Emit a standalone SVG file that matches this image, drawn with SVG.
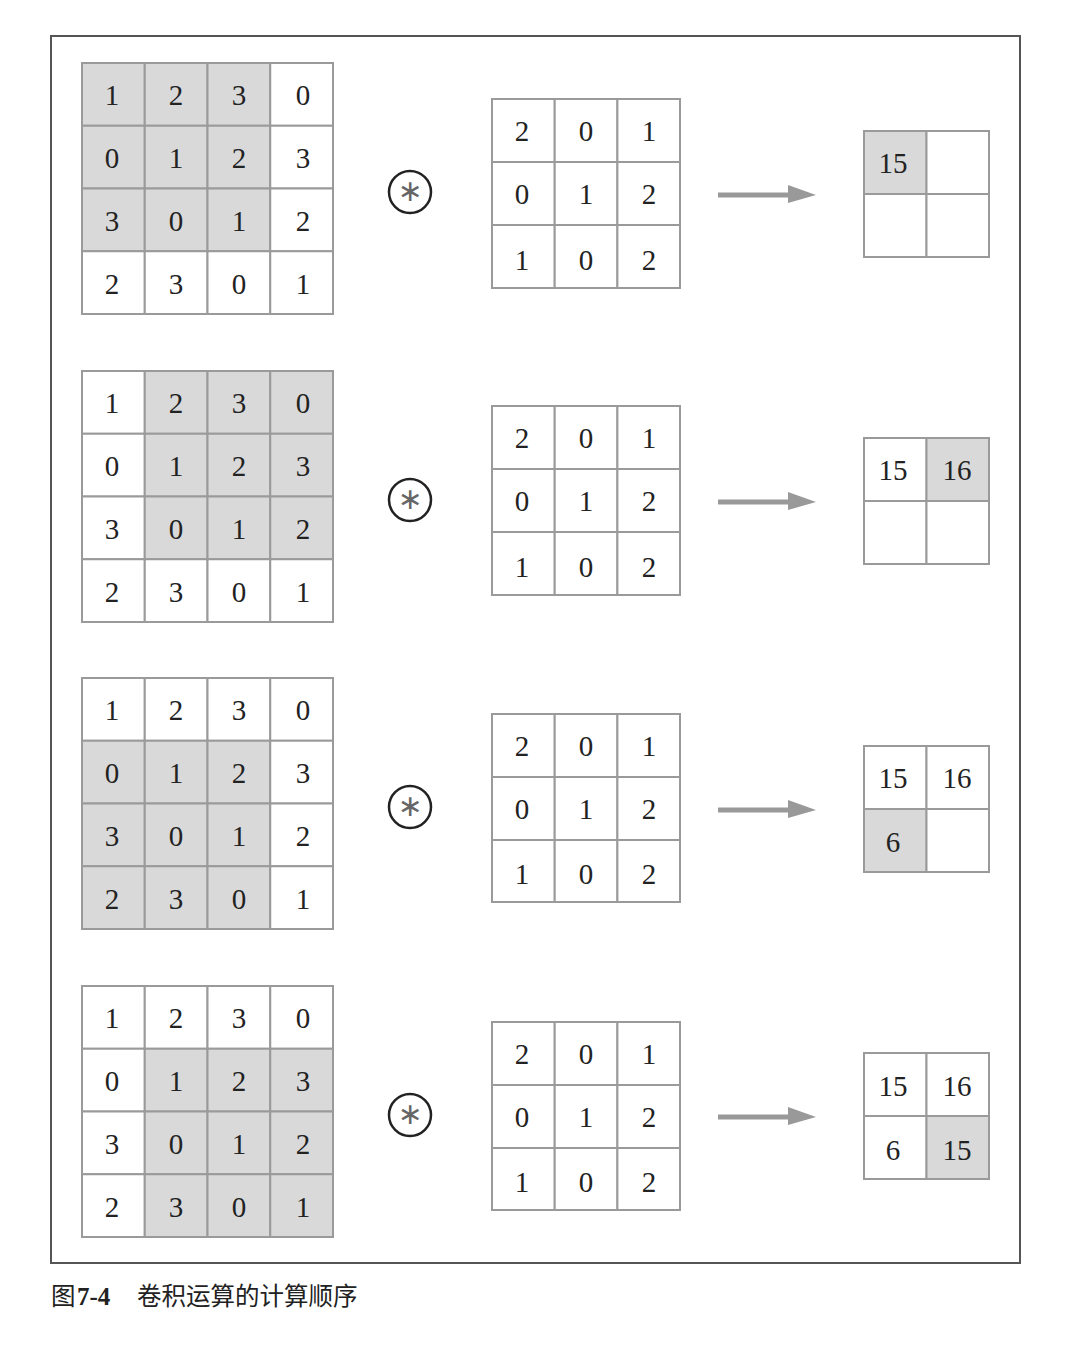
<svg xmlns="http://www.w3.org/2000/svg" width="1080" height="1366" viewBox="0 0 1080 1366">
<style>
.frame{fill:#fff;stroke:#555;stroke-width:2}
.c{fill:#fff;stroke:#9a9a9a;stroke-width:2}
.s{fill:#d9d9d9;stroke:#9a9a9a;stroke-width:2}
.n{font-family:"Liberation Serif","DejaVu Serif",serif;font-size:29px;fill:#222;text-anchor:middle}
.op{fill:none;stroke:#222;stroke-width:2.5}
.ast{font-family:"DejaVu Sans",sans-serif;font-size:30px;fill:#666;text-anchor:middle}
.arr{fill:#999;stroke:none}
.cap{font-family:"Noto Sans CJK SC","Noto Sans",sans-serif;font-size:24.5px;fill:#222}
.capn{font-family:"Liberation Serif",serif;font-size:25px;font-weight:bold;fill:#222}
</style>
<rect width="1080" height="1366" fill="#fff"/>
<rect class="frame" x="51" y="36" width="969" height="1227"/>

<!-- Row 1 -->
<g id="input1">
<rect class="s" x="82" y="63" width="62.75" height="62.75"/><rect class="s" x="144.75" y="63" width="62.75" height="62.75"/><rect class="s" x="207.5" y="63" width="62.75" height="62.75"/><rect class="c" x="270.25" y="63" width="62.75" height="62.75"/>
<rect class="s" x="82" y="125.75" width="62.75" height="62.75"/><rect class="s" x="144.75" y="125.75" width="62.75" height="62.75"/><rect class="s" x="207.5" y="125.75" width="62.75" height="62.75"/><rect class="c" x="270.25" y="125.75" width="62.75" height="62.75"/>
<rect class="s" x="82" y="188.5" width="62.75" height="62.75"/><rect class="s" x="144.75" y="188.5" width="62.75" height="62.75"/><rect class="s" x="207.5" y="188.5" width="62.75" height="62.75"/><rect class="c" x="270.25" y="188.5" width="62.75" height="62.75"/>
<rect class="c" x="82" y="251.25" width="62.75" height="62.75"/><rect class="c" x="144.75" y="251.25" width="62.75" height="62.75"/><rect class="c" x="207.5" y="251.25" width="62.75" height="62.75"/><rect class="c" x="270.25" y="251.25" width="62.75" height="62.75"/>
<text class="n" x="112" y="105">1</text><text class="n" x="176" y="105">2</text><text class="n" x="239" y="105">3</text><text class="n" x="303" y="105">0</text>
<text class="n" x="112" y="168">0</text><text class="n" x="176" y="168">1</text><text class="n" x="239" y="168">2</text><text class="n" x="303" y="168">3</text>
<text class="n" x="112" y="231">3</text><text class="n" x="176" y="231">0</text><text class="n" x="239" y="231">1</text><text class="n" x="303" y="231">2</text>
<text class="n" x="112" y="294">2</text><text class="n" x="176" y="294">3</text><text class="n" x="239" y="294">0</text><text class="n" x="303" y="294">1</text>
</g>
<g id="op1"><circle class="op" cx="410" cy="192" r="21"/><text class="ast" x="410" y="201">∗</text></g>
<g id="kernel1">
<rect class="c" x="492" y="99" width="62.7" height="63"/><rect class="c" x="554.7" y="99" width="62.7" height="63"/><rect class="c" x="617.4" y="99" width="62.6" height="63"/>
<rect class="c" x="492" y="162" width="62.7" height="63"/><rect class="c" x="554.7" y="162" width="62.7" height="63"/><rect class="c" x="617.4" y="162" width="62.6" height="63"/>
<rect class="c" x="492" y="225" width="62.7" height="63"/><rect class="c" x="554.7" y="225" width="62.7" height="63"/><rect class="c" x="617.4" y="225" width="62.6" height="63"/>
<text class="n" x="522" y="141">2</text><text class="n" x="586" y="141">0</text><text class="n" x="649" y="141">1</text>
<text class="n" x="522" y="204">0</text><text class="n" x="586" y="204">1</text><text class="n" x="649" y="204">2</text>
<text class="n" x="522" y="270">1</text><text class="n" x="586" y="270">0</text><text class="n" x="649" y="270">2</text>
</g>
<g id="output1">
<rect class="s" x="864" y="131" width="62.5" height="63"/><rect class="c" x="926.5" y="131" width="62.5" height="63"/>
<rect class="c" x="864" y="194" width="62.5" height="63"/><rect class="c" x="926.5" y="194" width="62.5" height="63"/>
<text class="n" x="893" y="173">15</text>
</g>

<!-- Row 2 -->
<g id="input2">
<rect class="c" x="82" y="371" width="62.75" height="62.75"/><rect class="s" x="144.75" y="371" width="62.75" height="62.75"/><rect class="s" x="207.5" y="371" width="62.75" height="62.75"/><rect class="s" x="270.25" y="371" width="62.75" height="62.75"/>
<rect class="c" x="82" y="433.75" width="62.75" height="62.75"/><rect class="s" x="144.75" y="433.75" width="62.75" height="62.75"/><rect class="s" x="207.5" y="433.75" width="62.75" height="62.75"/><rect class="s" x="270.25" y="433.75" width="62.75" height="62.75"/>
<rect class="c" x="82" y="496.5" width="62.75" height="62.75"/><rect class="s" x="144.75" y="496.5" width="62.75" height="62.75"/><rect class="s" x="207.5" y="496.5" width="62.75" height="62.75"/><rect class="s" x="270.25" y="496.5" width="62.75" height="62.75"/>
<rect class="c" x="82" y="559.25" width="62.75" height="62.75"/><rect class="c" x="144.75" y="559.25" width="62.75" height="62.75"/><rect class="c" x="207.5" y="559.25" width="62.75" height="62.75"/><rect class="c" x="270.25" y="559.25" width="62.75" height="62.75"/>
<text class="n" x="112" y="413">1</text><text class="n" x="176" y="413">2</text><text class="n" x="239" y="413">3</text><text class="n" x="303" y="413">0</text>
<text class="n" x="112" y="476">0</text><text class="n" x="176" y="476">1</text><text class="n" x="239" y="476">2</text><text class="n" x="303" y="476">3</text>
<text class="n" x="112" y="539">3</text><text class="n" x="176" y="539">0</text><text class="n" x="239" y="539">1</text><text class="n" x="303" y="539">2</text>
<text class="n" x="112" y="602">2</text><text class="n" x="176" y="602">3</text><text class="n" x="239" y="602">0</text><text class="n" x="303" y="602">1</text>
</g>
<g id="op2"><circle class="op" cx="410" cy="500" r="21"/><text class="ast" x="410" y="509">∗</text></g>
<g id="kernel2">
<rect class="c" x="492" y="406" width="62.7" height="63"/><rect class="c" x="554.7" y="406" width="62.7" height="63"/><rect class="c" x="617.4" y="406" width="62.6" height="63"/>
<rect class="c" x="492" y="469" width="62.7" height="63"/><rect class="c" x="554.7" y="469" width="62.7" height="63"/><rect class="c" x="617.4" y="469" width="62.6" height="63"/>
<rect class="c" x="492" y="532" width="62.7" height="63"/><rect class="c" x="554.7" y="532" width="62.7" height="63"/><rect class="c" x="617.4" y="532" width="62.6" height="63"/>
<text class="n" x="522" y="448">2</text><text class="n" x="586" y="448">0</text><text class="n" x="649" y="448">1</text>
<text class="n" x="522" y="511">0</text><text class="n" x="586" y="511">1</text><text class="n" x="649" y="511">2</text>
<text class="n" x="522" y="577">1</text><text class="n" x="586" y="577">0</text><text class="n" x="649" y="577">2</text>
</g>
<g id="output2">
<rect class="c" x="864" y="438" width="62.5" height="63"/><rect class="s" x="926.5" y="438" width="62.5" height="63"/>
<rect class="c" x="864" y="501" width="62.5" height="63"/><rect class="c" x="926.5" y="501" width="62.5" height="63"/>
<text class="n" x="893" y="480">15</text><text class="n" x="957" y="480">16</text>
</g>

<!-- Row 3 -->
<g id="input3">
<rect class="c" x="82" y="678" width="62.75" height="62.75"/><rect class="c" x="144.75" y="678" width="62.75" height="62.75"/><rect class="c" x="207.5" y="678" width="62.75" height="62.75"/><rect class="c" x="270.25" y="678" width="62.75" height="62.75"/>
<rect class="s" x="82" y="740.75" width="62.75" height="62.75"/><rect class="s" x="144.75" y="740.75" width="62.75" height="62.75"/><rect class="s" x="207.5" y="740.75" width="62.75" height="62.75"/><rect class="c" x="270.25" y="740.75" width="62.75" height="62.75"/>
<rect class="s" x="82" y="803.5" width="62.75" height="62.75"/><rect class="s" x="144.75" y="803.5" width="62.75" height="62.75"/><rect class="s" x="207.5" y="803.5" width="62.75" height="62.75"/><rect class="c" x="270.25" y="803.5" width="62.75" height="62.75"/>
<rect class="s" x="82" y="866.25" width="62.75" height="62.75"/><rect class="s" x="144.75" y="866.25" width="62.75" height="62.75"/><rect class="s" x="207.5" y="866.25" width="62.75" height="62.75"/><rect class="c" x="270.25" y="866.25" width="62.75" height="62.75"/>
<text class="n" x="112" y="720">1</text><text class="n" x="176" y="720">2</text><text class="n" x="239" y="720">3</text><text class="n" x="303" y="720">0</text>
<text class="n" x="112" y="783">0</text><text class="n" x="176" y="783">1</text><text class="n" x="239" y="783">2</text><text class="n" x="303" y="783">3</text>
<text class="n" x="112" y="846">3</text><text class="n" x="176" y="846">0</text><text class="n" x="239" y="846">1</text><text class="n" x="303" y="846">2</text>
<text class="n" x="112" y="909">2</text><text class="n" x="176" y="909">3</text><text class="n" x="239" y="909">0</text><text class="n" x="303" y="909">1</text>
</g>
<g id="op3"><circle class="op" cx="410" cy="807" r="21"/><text class="ast" x="410" y="816">∗</text></g>
<g id="kernel3">
<rect class="c" x="492" y="714" width="62.7" height="63"/><rect class="c" x="554.7" y="714" width="62.7" height="63"/><rect class="c" x="617.4" y="714" width="62.6" height="63"/>
<rect class="c" x="492" y="777" width="62.7" height="63"/><rect class="c" x="554.7" y="777" width="62.7" height="63"/><rect class="c" x="617.4" y="777" width="62.6" height="63"/>
<rect class="c" x="492" y="840" width="62.7" height="62"/><rect class="c" x="554.7" y="840" width="62.7" height="62"/><rect class="c" x="617.4" y="840" width="62.6" height="62"/>
<text class="n" x="522" y="756">2</text><text class="n" x="586" y="756">0</text><text class="n" x="649" y="756">1</text>
<text class="n" x="522" y="819">0</text><text class="n" x="586" y="819">1</text><text class="n" x="649" y="819">2</text>
<text class="n" x="522" y="884">1</text><text class="n" x="586" y="884">0</text><text class="n" x="649" y="884">2</text>
</g>
<g id="output3">
<rect class="c" x="864" y="746" width="62.5" height="63"/><rect class="c" x="926.5" y="746" width="62.5" height="63"/>
<rect class="s" x="864" y="809" width="62.5" height="63"/><rect class="c" x="926.5" y="809" width="62.5" height="63"/>
<text class="n" x="893" y="788">15</text><text class="n" x="957" y="788">16</text><text class="n" x="893" y="852">6</text>
</g>

<!-- Row 4 -->
<g id="input4">
<rect class="c" x="82" y="986" width="62.75" height="62.75"/><rect class="c" x="144.75" y="986" width="62.75" height="62.75"/><rect class="c" x="207.5" y="986" width="62.75" height="62.75"/><rect class="c" x="270.25" y="986" width="62.75" height="62.75"/>
<rect class="c" x="82" y="1048.75" width="62.75" height="62.75"/><rect class="s" x="144.75" y="1048.75" width="62.75" height="62.75"/><rect class="s" x="207.5" y="1048.75" width="62.75" height="62.75"/><rect class="s" x="270.25" y="1048.75" width="62.75" height="62.75"/>
<rect class="c" x="82" y="1111.5" width="62.75" height="62.75"/><rect class="s" x="144.75" y="1111.5" width="62.75" height="62.75"/><rect class="s" x="207.5" y="1111.5" width="62.75" height="62.75"/><rect class="s" x="270.25" y="1111.5" width="62.75" height="62.75"/>
<rect class="c" x="82" y="1174.25" width="62.75" height="62.75"/><rect class="s" x="144.75" y="1174.25" width="62.75" height="62.75"/><rect class="s" x="207.5" y="1174.25" width="62.75" height="62.75"/><rect class="s" x="270.25" y="1174.25" width="62.75" height="62.75"/>
<text class="n" x="112" y="1028">1</text><text class="n" x="176" y="1028">2</text><text class="n" x="239" y="1028">3</text><text class="n" x="303" y="1028">0</text>
<text class="n" x="112" y="1091">0</text><text class="n" x="176" y="1091">1</text><text class="n" x="239" y="1091">2</text><text class="n" x="303" y="1091">3</text>
<text class="n" x="112" y="1154">3</text><text class="n" x="176" y="1154">0</text><text class="n" x="239" y="1154">1</text><text class="n" x="303" y="1154">2</text>
<text class="n" x="112" y="1217">2</text><text class="n" x="176" y="1217">3</text><text class="n" x="239" y="1217">0</text><text class="n" x="303" y="1217">1</text>
</g>
<g id="op4"><circle class="op" cx="410" cy="1115" r="21"/><text class="ast" x="410" y="1124">∗</text></g>
<g id="kernel4">
<rect class="c" x="492" y="1022" width="62.7" height="63"/><rect class="c" x="554.7" y="1022" width="62.7" height="63"/><rect class="c" x="617.4" y="1022" width="62.6" height="63"/>
<rect class="c" x="492" y="1085" width="62.7" height="63"/><rect class="c" x="554.7" y="1085" width="62.7" height="63"/><rect class="c" x="617.4" y="1085" width="62.6" height="63"/>
<rect class="c" x="492" y="1148" width="62.7" height="62"/><rect class="c" x="554.7" y="1148" width="62.7" height="62"/><rect class="c" x="617.4" y="1148" width="62.6" height="62"/>
<text class="n" x="522" y="1064">2</text><text class="n" x="586" y="1064">0</text><text class="n" x="649" y="1064">1</text>
<text class="n" x="522" y="1127">0</text><text class="n" x="586" y="1127">1</text><text class="n" x="649" y="1127">2</text>
<text class="n" x="522" y="1192">1</text><text class="n" x="586" y="1192">0</text><text class="n" x="649" y="1192">2</text>
</g>
<g id="output4">
<rect class="c" x="864" y="1053" width="62.5" height="63"/><rect class="c" x="926.5" y="1053" width="62.5" height="63"/>
<rect class="c" x="864" y="1116" width="62.5" height="63"/><rect class="s" x="926.5" y="1116" width="62.5" height="63"/>
<text class="n" x="893" y="1096">15</text><text class="n" x="957" y="1096">16</text><text class="n" x="893" y="1160">6</text><text class="n" x="957" y="1160">15</text>
</g>

<g id="connectors">
<path class="arr" d="M718,192.5 H788 V185 L816,195 L788,203 V197.5 H718 Z"/>
<path class="arr" d="M718,499.5 H788 V492 L816,502 L788,510 V504.5 H718 Z"/>
<path class="arr" d="M718,807.5 H788 V800 L816,810 L788,818 V812.5 H718 Z"/>
<path class="arr" d="M718,1114.5 H788 V1107 L816,1117 L788,1125 V1119.5 H718 Z"/>
</g>

<g id="caption">
<text class="cap" x="51" y="1305">图</text>
<text class="capn" x="77" y="1305">7-4</text>
<text class="cap" x="137" y="1305">卷积运算的计算顺序</text>
</g>
</svg>
